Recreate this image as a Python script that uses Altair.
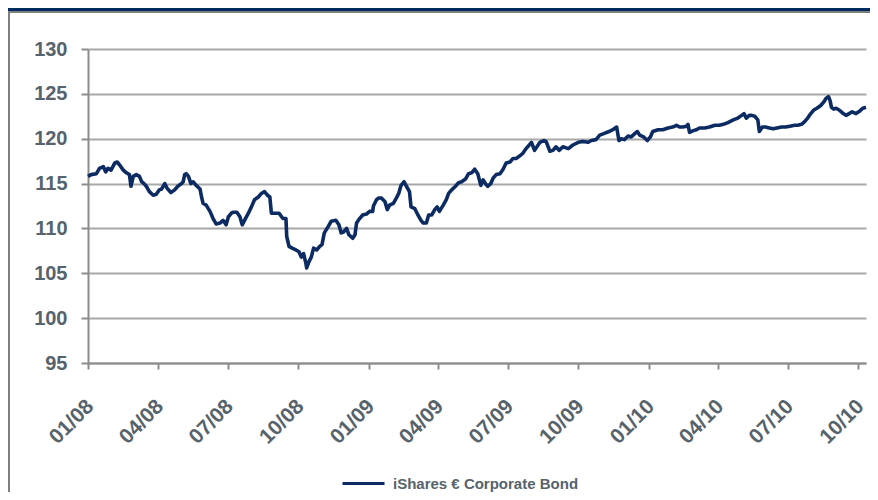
import altair as alt
import pandas as pd

START = "2008-01-01"
SERIES_NAME = "iShares € Corporate Bond"

# days since 2008-01-01 and index level
DAYS = [0, 4, 11, 15, 20, 23, 26, 30, 35, 38, 41, 46, 50, 54, 56, 59, 63, 67, 70, 73,
        76, 80, 85, 89, 93, 96, 100, 103, 108, 113, 117, 122, 124, 126, 128, 131, 134, 137, 141, 146,
        148, 150, 154, 159, 163, 167, 172, 176, 180, 183, 187, 189, 194, 198, 201, 204, 209, 213, 217, 222,
        226, 230, 234, 237, 239, 243, 249, 254, 258, 259, 262, 266, 271, 275, 278, 281, 284, 285, 288, 291,
        294, 298, 302, 305, 308, 313, 317, 323, 327, 330, 333, 337, 340, 345, 348, 350, 354, 358, 363, 367,
        371, 372, 376, 379, 382, 387, 390, 393, 398, 402, 405, 408, 412, 415, 419, 421, 426, 430, 434, 437,
        441, 444, 448, 452, 455, 458, 463, 467, 470, 474, 479, 483, 487, 492, 496, 500, 504, 508, 512, 515,
        518, 521, 525, 528, 532, 537, 541, 545, 550, 554, 558, 563, 567, 571, 578, 582, 589, 594, 597, 602,
        606, 610, 614, 619, 626, 632, 639, 645, 652, 656, 662, 667, 673, 679, 684, 689, 692, 695, 699, 704,
        708, 713, 716, 719, 724, 729, 733, 736, 743, 749, 756, 762, 767, 771, 775, 780, 782, 784, 789, 793,
        797, 804, 810, 817, 823, 828, 834, 841, 847, 852, 855, 858, 862, 865, 869, 873, 875, 879, 883, 888,
        893, 898, 904, 909, 915, 921, 925, 930, 934, 938, 942, 946, 950, 955, 959, 962, 965, 967, 969, 972,
        975, 979, 983, 988, 992, 996, 1001, 1006, 1010, 1014]

VALUES = [115.8, 116.0, 116.1, 116.7, 116.9, 116.3, 116.7, 116.5, 117.3, 117.4, 117.1, 116.5, 116.2, 116.0, 114.7, 115.8, 116.0, 115.8, 115.2, 115.0,
          114.7, 114.1, 113.7, 113.8, 114.3, 114.4, 115.0, 114.5, 114.0, 114.3, 114.7, 115.0, 115.2, 116.0, 116.1, 115.8, 115.0, 115.2, 114.8, 114.4,
          113.5, 112.8, 112.6, 111.9, 111.1, 110.5, 110.6, 110.9, 110.4, 111.3, 111.7, 111.8, 111.8, 111.3, 110.4, 110.9, 111.7, 112.4, 113.2, 113.5,
          113.9, 114.1, 113.7, 113.5, 111.7, 111.7, 111.7, 111.1, 111.1, 109.1, 108.0, 107.8, 107.6, 107.4, 106.8, 107.2, 106.1, 105.6, 106.3, 106.8,
          107.8, 107.6, 108.0, 108.2, 109.5, 110.2, 110.8, 110.9, 110.4, 109.5, 109.6, 110.0, 109.3, 108.9, 109.3, 110.6, 111.1, 111.5, 111.6, 111.9,
          111.9, 112.5, 113.2, 113.4, 113.4, 113.0, 112.1, 112.6, 112.8, 113.4, 113.9, 114.8, 115.2, 114.7, 114.1, 112.4, 112.2, 111.5, 110.9, 110.6,
          110.6, 111.5, 111.5, 112.1, 112.4, 111.9, 112.6, 113.2, 113.9, 114.3, 114.7, 115.1, 115.2, 115.5, 116.1, 116.2, 116.6, 116.1, 114.8, 115.4,
          115.0, 114.7, 115.0, 115.6, 116.0, 116.1, 116.6, 117.3, 117.4, 117.8, 117.8, 118.1, 118.4, 118.9, 119.6, 118.7, 119.6, 119.8, 119.7, 118.6,
          118.7, 119.1, 118.7, 119.1, 118.9, 119.3, 119.6, 119.7, 119.6, 119.8, 119.9, 120.4, 120.6, 120.8, 121.0, 121.3, 119.8, 120.0, 119.9, 120.3,
          120.2, 120.6, 120.8, 120.4, 120.2, 119.8, 120.2, 120.8, 121.0, 121.0, 121.2, 121.3, 121.5, 121.3, 121.3, 121.4, 121.6, 120.7, 120.9, 121.0,
          121.2, 121.2, 121.3, 121.5, 121.5, 121.6, 121.8, 122.1, 122.3, 122.6, 122.8, 122.3, 122.6, 122.6, 122.5, 122.1, 120.8, 121.3, 121.3, 121.2,
          121.1, 121.2, 121.3, 121.3, 121.4, 121.5, 121.5, 121.6, 121.9, 122.3, 122.8, 123.2, 123.4, 123.7, 124.1, 124.5, 124.7, 124.3, 123.5, 123.3,
          123.4, 123.2, 122.9, 122.6, 122.8, 123.0, 122.8, 123.1, 123.4, 123.5]

Y_TICKS = [95, 100, 105, 110, 115, 120, 125, 130]
X_TICK_MONTHS = [(2008, 1), (2008, 4), (2008, 7), (2008, 10), (2009, 1), (2009, 4),
                 (2009, 7), (2009, 10), (2010, 1), (2010, 4), (2010, 7), (2010, 10)]

dates = pd.Timestamp(START) + pd.to_timedelta(DAYS, unit="D")
df = pd.DataFrame({"date": dates, "value": VALUES, "series": SERIES_NAME})

NAVY = "#0c2b62"
LABEL = "#56636c"
AXIS = "#8c8c8c"
GRID = "#a8a8a8"
FONT = "Liberation Sans"

x_ticks = [alt.DateTime(year=y, month=m, date=1) for y, m in X_TICK_MONTHS]

line = alt.Chart(df).mark_line(strokeWidth=3.6, strokeJoin="round").encode(
    x=alt.X("date:T",
            scale=alt.Scale(domain=[alt.DateTime(year=2008, month=1, date=1),
                                    alt.DateTime(year=2010, month=10, date=11)]),
            axis=alt.Axis(values=x_ticks, format="%m/%y", title=None, grid=False,
                          labelAngle=315, labelAlign="right", labelBaseline="middle",
                          labelPadding=34, labelOffset=2, labelFontSize=21,
                          tickSize=6, labelOverlap=False)),
    y=alt.Y("value:Q", scale=alt.Scale(domain=[95, 130], nice=False, zero=False),
            axis=alt.Axis(values=Y_TICKS, title=None, grid=True, tickSize=7,
                          labelPadding=14, labelFontSize=20)),
    color=alt.Color("series:N", scale=alt.Scale(range=[NAVY]),
                    legend=alt.Legend(title=None, orient="none", legendX=253, legendY=412,
                                      symbolType="stroke", symbolStrokeWidth=3,
                                      symbolSize=1764, labelFontSize=15, labelFont=FONT,
                                      labelFontWeight="bold", labelColor=LABEL,
                                      labelOffset=7, labelLimit=400, padding=0)),
)

header = alt.Chart(df).mark_rect(color="#002b60").encode(
    x=alt.value(-80), x2=alt.value(782), y=alt.value(-41), y2=alt.value(-38))
header_line = alt.Chart(df).mark_rule(color="#7f7f7f", strokeWidth=2).encode(
    x=alt.value(-80), x2=alt.value(782), y=alt.value(-37))
left_border = alt.Chart(df).mark_rule(color="#7f7f7f", strokeWidth=2).encode(
    x=alt.value(-79), y=alt.value(-37), y2=alt.value(443))

chart = alt.layer(header, header_line, left_border, line).properties(
    width=778, height=314,
    autosize=alt.AutoSizeParams(type="none"),
    padding={"left": 80, "top": 41, "right": 4, "bottom": 129},
).configure_view(stroke=None).configure_axis(
    domainColor=AXIS, domainWidth=2, tickColor=AXIS, tickWidth=2,
    gridColor=GRID, gridWidth=2, gridOpacity=1,
    labelFont=FONT, labelFontWeight="bold", labelColor=LABEL,
)

chart.save("out.html", embed_options={"renderer": "svg", "actions": False})
